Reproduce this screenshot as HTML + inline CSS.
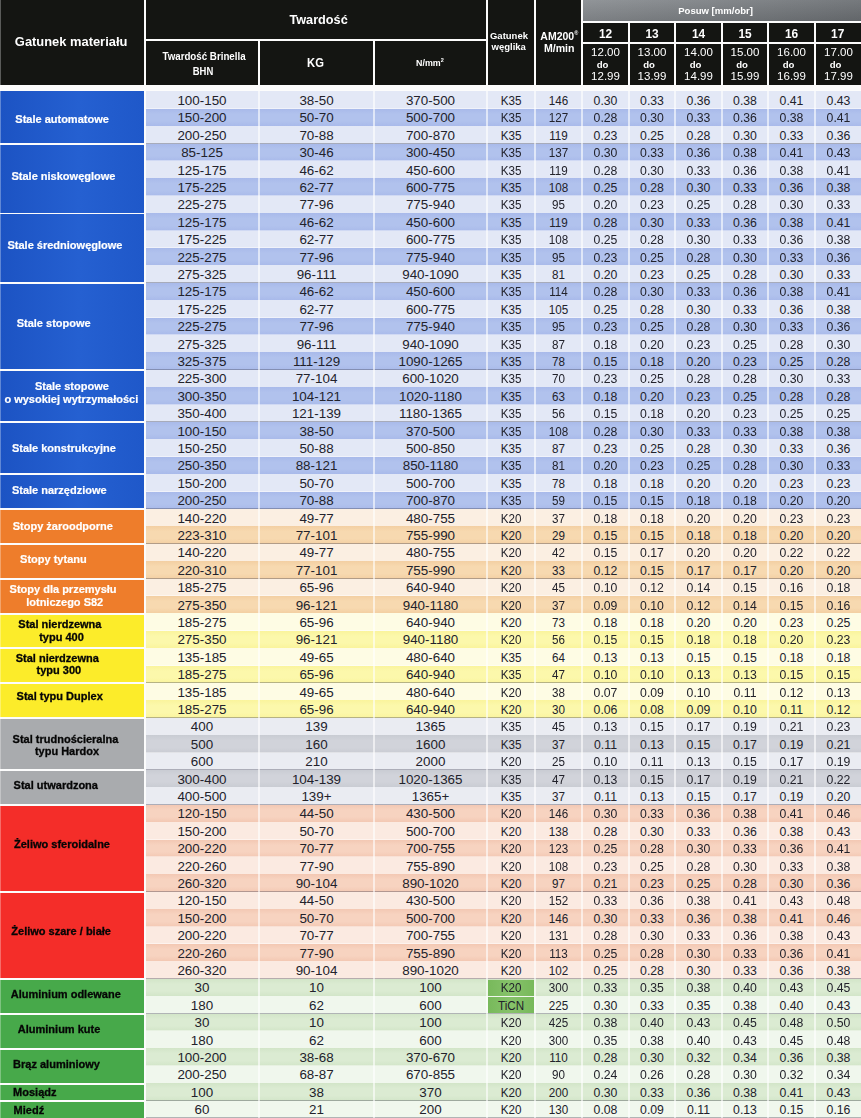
<!DOCTYPE html>
<html lang="pl">
<head>
<meta charset="utf-8">
<title>Tabela parametrów skrawania</title>
<style>
html,body{margin:0;padding:0;}
body{width:861px;height:1118px;position:relative;overflow:hidden;background:#fcfcfc;font-family:"Liberation Sans",sans-serif;}
#sheet{position:absolute;left:0;top:0;width:861px;height:1118px;overflow:hidden;filter:blur(.45px);}
.a{position:absolute;}
.hd{position:absolute;background:#141512;color:#fff;font-weight:bold;text-align:center;white-space:nowrap;}
.t{position:absolute;left:0;width:100%;text-align:center;}
.r{position:absolute;left:146px;width:715px;height:17.4px;}
.bg{position:absolute;left:0;top:0;width:715px;height:17.5px;}
.c{position:absolute;top:.65px;height:17.4px;line-height:17.4px;text-align:center;font-size:13.4px;color:#22222b;white-space:nowrap;}
.n1{transform:scaleX(.87);}
.n2{transform:scaleX(.915);}
.lb{position:absolute;left:0;width:144px;}
.lt{position:absolute;font-weight:bold;font-size:11px;line-height:11px;white-space:nowrap;color:#fff;-webkit-text-stroke:.2px #fff;}
.k .lt{color:#060606;-webkit-text-stroke:.3px #060606;}
.sep{position:absolute;left:146px;width:715px;height:1px;background:rgba(70,70,90,.38);}
.hl{position:absolute;left:146px;width:715px;height:1px;background:rgba(255,255,255,.45);}
.vl{position:absolute;top:91px;width:2px;height:1027px;background:rgba(255,255,255,.6);}

.blue .l{background:#e3e8f6;}
.blue .d{background:linear-gradient(#a9baea,#b1c2ed 30%,#b1c2ed 70%,#a9baea);}
.orange .l{background:#fbefe2;}
.orange .d{background:linear-gradient(#f3cfa2,#f7d9b0 30%,#f7d9b0 70%,#f3cfa2);}
.yellow .l{background:#fefce4;}
.yellow .d{background:linear-gradient(#faf49c,#fcf8ab 30%,#fcf8ab 70%,#faf49c);}
.gray .l{background:#eaecf2;}
.gray .d{background:linear-gradient(#c9ccd3,#d1d3da 30%,#d1d3da 70%,#c9ccd3);}
.red .l{background:#fbeae1;}
.red .d{background:linear-gradient(#f3c8b3,#f7d3c0 30%,#f7d3c0 70%,#f3c8b3);}
.green .l{background:#f0f7ed;}
.green .d{background:linear-gradient(#d2e5c8,#dbebd2 30%,#dbebd2 70%,#d2e5c8);}

.lb.blue{background:linear-gradient(90deg,#1c53c3,#2560d1 55%,#1f58c9);}
.lb.orange{background:#ee7d2b;}
.lb.yellow{background:#fcec2a;}
.lb.gray{background:#a9abae;}
.lb.red{background:#f42d29;}
.lb.green{background:#47a94a;}
</style>
</head>
<body>
<div id="sheet">
<!-- header -->
<div class="hd" style="left:0px;top:0px;width:144px;height:85px;"><div class="t" style="top:36.18px;font-size:12.9px;line-height:12.9px;left:-0.9px;">Gatunek materiału</div></div>
<div class="hd" style="left:146px;top:0px;width:340px;height:39px;"><div class="t" style="top:14.15px;font-size:12.7px;line-height:12.7px;left:2.6px;">Twardość</div></div>
<div class="hd" style="left:146px;top:41px;width:112px;height:44px;"><div class="t" style="top:10.45px;font-size:11.4px;line-height:11.4px;transform:scaleX(.855);left:1.7px;">Twardość Brinella</div><div class="t" style="top:24.69px;font-size:11px;line-height:11px;transform:scaleX(.86);left:1.2px;">BHN</div></div>
<div class="hd" style="left:260px;top:41px;width:113px;height:44px;"><div class="t" style="top:15.57px;font-size:12.2px;line-height:12.2px;transform:scaleX(.92);left:-1.4px;">KG</div></div>
<div class="hd" style="left:375px;top:41px;width:111px;height:44px;"><div class="t" style="top:18.47px;font-size:8.9px;line-height:8.9px;left:-0.6px;">N/mm<span style="font-size:5.5px;position:relative;top:-4px;">2</span></div></div>
<div class="hd" style="left:488px;top:0px;width:46px;height:85px;"><div class="t" style="top:30.86px;font-size:9.5px;line-height:9.5px;left:-2px;">Gatunek</div><div class="t" style="top:41.56px;font-size:9.5px;line-height:9.5px;left:-2.3px;">węglika</div></div>
<div class="hd" style="left:536px;top:0px;width:45px;height:85px;"><div class="t" style="top:30.71px;font-size:10.5px;line-height:10.5px;left:.8px;">AM200<span style="font-size:5.5px;position:relative;top:-5px;">®</span></div><div class="t" style="top:42.83px;font-size:10.6px;line-height:10.6px;left:.7px;">M/min</div></div>
<div class="a" style="left:583px;top:0;width:278px;height:21px;background:linear-gradient(180deg,rgba(255,255,255,.06),rgba(0,0,0,.1)),linear-gradient(90deg,#8a8e92,#7e8286 45%,#6d7175);color:#fff;font-weight:bold;text-align:center;white-space:nowrap;"><div class="t" style="top:5.72px;font-size:9.55px;line-height:9.55px;left:-6.4px;">Posuw [mm/obr]</div></div>
<div class="hd" style="left:583px;top:23px;width:45px;height:19px;"><div class="t" style="top:6.13px;font-size:11.9px;line-height:11.9px;">12</div></div>
<div class="hd" style="left:583px;top:44px;width:45px;height:41px;"><div class="t" style="top:3.47px;font-size:11.5px;line-height:11.5px;font-weight:normal;">12.00</div><div class="t" style="top:15.87px;font-size:9.6px;line-height:9.6px;left:-3px;">do</div><div class="t" style="top:26.67px;font-size:11.5px;line-height:11.5px;font-weight:normal;">12.99</div></div>
<div class="hd" style="left:630px;top:23px;width:44px;height:19px;"><div class="t" style="top:6.13px;font-size:11.9px;line-height:11.9px;">13</div></div>
<div class="hd" style="left:630px;top:44px;width:44px;height:41px;"><div class="t" style="top:3.47px;font-size:11.5px;line-height:11.5px;font-weight:normal;">13.00</div><div class="t" style="top:15.87px;font-size:9.6px;line-height:9.6px;left:-3px;">do</div><div class="t" style="top:26.67px;font-size:11.5px;line-height:11.5px;font-weight:normal;">13.99</div></div>
<div class="hd" style="left:676px;top:23px;width:45px;height:19px;"><div class="t" style="top:6.13px;font-size:11.9px;line-height:11.9px;">14</div></div>
<div class="hd" style="left:676px;top:44px;width:45px;height:41px;"><div class="t" style="top:3.47px;font-size:11.5px;line-height:11.5px;font-weight:normal;">14.00</div><div class="t" style="top:15.87px;font-size:9.6px;line-height:9.6px;left:-3px;">do</div><div class="t" style="top:26.67px;font-size:11.5px;line-height:11.5px;font-weight:normal;">14.99</div></div>
<div class="hd" style="left:723px;top:23px;width:44px;height:19px;"><div class="t" style="top:6.13px;font-size:11.9px;line-height:11.9px;">15</div></div>
<div class="hd" style="left:723px;top:44px;width:44px;height:41px;"><div class="t" style="top:3.47px;font-size:11.5px;line-height:11.5px;font-weight:normal;">15.00</div><div class="t" style="top:15.87px;font-size:9.6px;line-height:9.6px;left:-3px;">do</div><div class="t" style="top:26.67px;font-size:11.5px;line-height:11.5px;font-weight:normal;">15.99</div></div>
<div class="hd" style="left:769px;top:23px;width:45px;height:19px;"><div class="t" style="top:6.13px;font-size:11.9px;line-height:11.9px;">16</div></div>
<div class="hd" style="left:769px;top:44px;width:45px;height:41px;"><div class="t" style="top:3.47px;font-size:11.5px;line-height:11.5px;font-weight:normal;">16.00</div><div class="t" style="top:15.87px;font-size:9.6px;line-height:9.6px;left:-3px;">do</div><div class="t" style="top:26.67px;font-size:11.5px;line-height:11.5px;font-weight:normal;">16.99</div></div>
<div class="hd" style="left:816px;top:23px;width:45px;height:19px;"><div class="t" style="top:6.13px;font-size:11.9px;line-height:11.9px;left:-.8px;">17</div></div>
<div class="hd" style="left:816px;top:44px;width:45px;height:41px;"><div class="t" style="top:3.47px;font-size:11.5px;line-height:11.5px;font-weight:normal;">17.00</div><div class="t" style="top:15.87px;font-size:9.6px;line-height:9.6px;left:-3px;">do</div><div class="t" style="top:26.67px;font-size:11.5px;line-height:11.5px;font-weight:normal;">17.99</div></div>
<!-- blue -->
<div class="lb blue" style="top:91px;height:52px;"><div class="lt" style="left:15.3px;top:23px;">Stale automatowe</div></div>
<div class="r blue" style="top:91.3px;"><div class="bg l"></div><div class="c" style="left:0px;width:112px;">100-150</div><div class="c" style="left:114px;width:113px;">38-50</div><div class="c" style="left:229px;width:111px;">370-500</div><div class="c n1" style="left:342px;width:46px;">K35</div><div class="c n1" style="left:390px;width:45px;">146</div><div class="c n2" style="left:437px;width:45px;">0.30</div><div class="c n2" style="left:484px;width:44px;">0.33</div><div class="c n2" style="left:530px;width:45px;">0.36</div><div class="c n2" style="left:577px;width:44px;">0.38</div><div class="c n2" style="left:623px;width:45px;">0.41</div><div class="c n2" style="left:670px;width:45px;">0.43</div></div>
<div class="hl" style="top:108.2px;"></div>
<div class="r blue" style="top:108.7px;"><div class="bg d"></div><div class="c" style="left:0px;width:112px;">150-200</div><div class="c" style="left:114px;width:113px;">50-70</div><div class="c" style="left:229px;width:111px;">500-700</div><div class="c n1" style="left:342px;width:46px;">K35</div><div class="c n1" style="left:390px;width:45px;">127</div><div class="c n2" style="left:437px;width:45px;">0.28</div><div class="c n2" style="left:484px;width:44px;">0.30</div><div class="c n2" style="left:530px;width:45px;">0.33</div><div class="c n2" style="left:577px;width:44px;">0.36</div><div class="c n2" style="left:623px;width:45px;">0.38</div><div class="c n2" style="left:670px;width:45px;">0.41</div></div>
<div class="hl" style="top:125.6px;"></div>
<div class="r blue" style="top:126.1px;"><div class="bg l"></div><div class="c" style="left:0px;width:112px;">200-250</div><div class="c" style="left:114px;width:113px;">70-88</div><div class="c" style="left:229px;width:111px;">700-870</div><div class="c n1" style="left:342px;width:46px;">K35</div><div class="c n1" style="left:390px;width:45px;">119</div><div class="c n2" style="left:437px;width:45px;">0.23</div><div class="c n2" style="left:484px;width:44px;">0.25</div><div class="c n2" style="left:530px;width:45px;">0.28</div><div class="c n2" style="left:577px;width:44px;">0.30</div><div class="c n2" style="left:623px;width:45px;">0.33</div><div class="c n2" style="left:670px;width:45px;">0.36</div></div>
<div class="sep" style="top:143px;"></div>
<div class="lb blue" style="top:145px;height:68px;"><div class="lt" style="left:11.5px;top:26.2px;">Stale niskowęglowe</div></div>
<div class="r blue" style="top:143.5px;"><div class="bg d"></div><div class="c" style="left:0px;width:112px;">85-125</div><div class="c" style="left:114px;width:113px;">30-46</div><div class="c" style="left:229px;width:111px;">300-450</div><div class="c n1" style="left:342px;width:46px;">K35</div><div class="c n1" style="left:390px;width:45px;">137</div><div class="c n2" style="left:437px;width:45px;">0.30</div><div class="c n2" style="left:484px;width:44px;">0.33</div><div class="c n2" style="left:530px;width:45px;">0.36</div><div class="c n2" style="left:577px;width:44px;">0.38</div><div class="c n2" style="left:623px;width:45px;">0.41</div><div class="c n2" style="left:670px;width:45px;">0.43</div></div>
<div class="hl" style="top:160.4px;"></div>
<div class="r blue" style="top:160.9px;"><div class="bg l"></div><div class="c" style="left:0px;width:112px;">125-175</div><div class="c" style="left:114px;width:113px;">46-62</div><div class="c" style="left:229px;width:111px;">450-600</div><div class="c n1" style="left:342px;width:46px;">K35</div><div class="c n1" style="left:390px;width:45px;">119</div><div class="c n2" style="left:437px;width:45px;">0.28</div><div class="c n2" style="left:484px;width:44px;">0.30</div><div class="c n2" style="left:530px;width:45px;">0.33</div><div class="c n2" style="left:577px;width:44px;">0.36</div><div class="c n2" style="left:623px;width:45px;">0.38</div><div class="c n2" style="left:670px;width:45px;">0.41</div></div>
<div class="hl" style="top:177.8px;"></div>
<div class="r blue" style="top:178.3px;"><div class="bg d"></div><div class="c" style="left:0px;width:112px;">175-225</div><div class="c" style="left:114px;width:113px;">62-77</div><div class="c" style="left:229px;width:111px;">600-775</div><div class="c n1" style="left:342px;width:46px;">K35</div><div class="c n1" style="left:390px;width:45px;">108</div><div class="c n2" style="left:437px;width:45px;">0.25</div><div class="c n2" style="left:484px;width:44px;">0.28</div><div class="c n2" style="left:530px;width:45px;">0.30</div><div class="c n2" style="left:577px;width:44px;">0.33</div><div class="c n2" style="left:623px;width:45px;">0.36</div><div class="c n2" style="left:670px;width:45px;">0.38</div></div>
<div class="hl" style="top:195.2px;"></div>
<div class="r blue" style="top:195.7px;"><div class="bg l"></div><div class="c" style="left:0px;width:112px;">225-275</div><div class="c" style="left:114px;width:113px;">77-96</div><div class="c" style="left:229px;width:111px;">775-940</div><div class="c n1" style="left:342px;width:46px;">K35</div><div class="c n1" style="left:390px;width:45px;">95</div><div class="c n2" style="left:437px;width:45px;">0.20</div><div class="c n2" style="left:484px;width:44px;">0.23</div><div class="c n2" style="left:530px;width:45px;">0.25</div><div class="c n2" style="left:577px;width:44px;">0.28</div><div class="c n2" style="left:623px;width:45px;">0.30</div><div class="c n2" style="left:670px;width:45px;">0.33</div></div>
<div class="sep" style="top:212.6px;"></div>
<div class="lb blue" style="top:214px;height:68px;"><div class="lt" style="left:7.5px;top:26.1px;">Stale średniowęglowe</div></div>
<div class="r blue" style="top:213.1px;"><div class="bg d"></div><div class="c" style="left:0px;width:112px;">125-175</div><div class="c" style="left:114px;width:113px;">46-62</div><div class="c" style="left:229px;width:111px;">450-600</div><div class="c n1" style="left:342px;width:46px;">K35</div><div class="c n1" style="left:390px;width:45px;">119</div><div class="c n2" style="left:437px;width:45px;">0.28</div><div class="c n2" style="left:484px;width:44px;">0.30</div><div class="c n2" style="left:530px;width:45px;">0.33</div><div class="c n2" style="left:577px;width:44px;">0.36</div><div class="c n2" style="left:623px;width:45px;">0.38</div><div class="c n2" style="left:670px;width:45px;">0.41</div></div>
<div class="hl" style="top:230px;"></div>
<div class="r blue" style="top:230.5px;"><div class="bg l"></div><div class="c" style="left:0px;width:112px;">175-225</div><div class="c" style="left:114px;width:113px;">62-77</div><div class="c" style="left:229px;width:111px;">600-775</div><div class="c n1" style="left:342px;width:46px;">K35</div><div class="c n1" style="left:390px;width:45px;">108</div><div class="c n2" style="left:437px;width:45px;">0.25</div><div class="c n2" style="left:484px;width:44px;">0.28</div><div class="c n2" style="left:530px;width:45px;">0.30</div><div class="c n2" style="left:577px;width:44px;">0.33</div><div class="c n2" style="left:623px;width:45px;">0.36</div><div class="c n2" style="left:670px;width:45px;">0.38</div></div>
<div class="hl" style="top:247.4px;"></div>
<div class="r blue" style="top:247.9px;"><div class="bg d"></div><div class="c" style="left:0px;width:112px;">225-275</div><div class="c" style="left:114px;width:113px;">77-96</div><div class="c" style="left:229px;width:111px;">775-940</div><div class="c n1" style="left:342px;width:46px;">K35</div><div class="c n1" style="left:390px;width:45px;">95</div><div class="c n2" style="left:437px;width:45px;">0.23</div><div class="c n2" style="left:484px;width:44px;">0.25</div><div class="c n2" style="left:530px;width:45px;">0.28</div><div class="c n2" style="left:577px;width:44px;">0.30</div><div class="c n2" style="left:623px;width:45px;">0.33</div><div class="c n2" style="left:670px;width:45px;">0.36</div></div>
<div class="hl" style="top:264.8px;"></div>
<div class="r blue" style="top:265.3px;"><div class="bg l"></div><div class="c" style="left:0px;width:112px;">275-325</div><div class="c" style="left:114px;width:113px;">96-111</div><div class="c" style="left:229px;width:111px;">940-1090</div><div class="c n1" style="left:342px;width:46px;">K35</div><div class="c n1" style="left:390px;width:45px;">81</div><div class="c n2" style="left:437px;width:45px;">0.20</div><div class="c n2" style="left:484px;width:44px;">0.23</div><div class="c n2" style="left:530px;width:45px;">0.25</div><div class="c n2" style="left:577px;width:44px;">0.28</div><div class="c n2" style="left:623px;width:45px;">0.30</div><div class="c n2" style="left:670px;width:45px;">0.33</div></div>
<div class="sep" style="top:282.2px;"></div>
<div class="lb blue" style="top:284px;height:85px;"><div class="lt" style="left:16.7px;top:33.7px;">Stale stopowe</div></div>
<div class="r blue" style="top:282.7px;"><div class="bg d"></div><div class="c" style="left:0px;width:112px;">125-175</div><div class="c" style="left:114px;width:113px;">46-62</div><div class="c" style="left:229px;width:111px;">450-600</div><div class="c n1" style="left:342px;width:46px;">K35</div><div class="c n1" style="left:390px;width:45px;">114</div><div class="c n2" style="left:437px;width:45px;">0.28</div><div class="c n2" style="left:484px;width:44px;">0.30</div><div class="c n2" style="left:530px;width:45px;">0.33</div><div class="c n2" style="left:577px;width:44px;">0.36</div><div class="c n2" style="left:623px;width:45px;">0.38</div><div class="c n2" style="left:670px;width:45px;">0.41</div></div>
<div class="hl" style="top:299.6px;"></div>
<div class="r blue" style="top:300.1px;"><div class="bg l"></div><div class="c" style="left:0px;width:112px;">175-225</div><div class="c" style="left:114px;width:113px;">62-77</div><div class="c" style="left:229px;width:111px;">600-775</div><div class="c n1" style="left:342px;width:46px;">K35</div><div class="c n1" style="left:390px;width:45px;">105</div><div class="c n2" style="left:437px;width:45px;">0.25</div><div class="c n2" style="left:484px;width:44px;">0.28</div><div class="c n2" style="left:530px;width:45px;">0.30</div><div class="c n2" style="left:577px;width:44px;">0.33</div><div class="c n2" style="left:623px;width:45px;">0.36</div><div class="c n2" style="left:670px;width:45px;">0.38</div></div>
<div class="hl" style="top:317px;"></div>
<div class="r blue" style="top:317.5px;"><div class="bg d"></div><div class="c" style="left:0px;width:112px;">225-275</div><div class="c" style="left:114px;width:113px;">77-96</div><div class="c" style="left:229px;width:111px;">775-940</div><div class="c n1" style="left:342px;width:46px;">K35</div><div class="c n1" style="left:390px;width:45px;">95</div><div class="c n2" style="left:437px;width:45px;">0.23</div><div class="c n2" style="left:484px;width:44px;">0.25</div><div class="c n2" style="left:530px;width:45px;">0.28</div><div class="c n2" style="left:577px;width:44px;">0.30</div><div class="c n2" style="left:623px;width:45px;">0.33</div><div class="c n2" style="left:670px;width:45px;">0.36</div></div>
<div class="hl" style="top:334.4px;"></div>
<div class="r blue" style="top:334.9px;"><div class="bg l"></div><div class="c" style="left:0px;width:112px;">275-325</div><div class="c" style="left:114px;width:113px;">96-111</div><div class="c" style="left:229px;width:111px;">940-1090</div><div class="c n1" style="left:342px;width:46px;">K35</div><div class="c n1" style="left:390px;width:45px;">87</div><div class="c n2" style="left:437px;width:45px;">0.18</div><div class="c n2" style="left:484px;width:44px;">0.20</div><div class="c n2" style="left:530px;width:45px;">0.23</div><div class="c n2" style="left:577px;width:44px;">0.25</div><div class="c n2" style="left:623px;width:45px;">0.28</div><div class="c n2" style="left:670px;width:45px;">0.30</div></div>
<div class="hl" style="top:351.8px;"></div>
<div class="r blue" style="top:352.3px;"><div class="bg d"></div><div class="c" style="left:0px;width:112px;">325-375</div><div class="c" style="left:114px;width:113px;">111-129</div><div class="c" style="left:229px;width:111px;">1090-1265</div><div class="c n1" style="left:342px;width:46px;">K35</div><div class="c n1" style="left:390px;width:45px;">78</div><div class="c n2" style="left:437px;width:45px;">0.15</div><div class="c n2" style="left:484px;width:44px;">0.18</div><div class="c n2" style="left:530px;width:45px;">0.20</div><div class="c n2" style="left:577px;width:44px;">0.23</div><div class="c n2" style="left:623px;width:45px;">0.25</div><div class="c n2" style="left:670px;width:45px;">0.28</div></div>
<div class="sep" style="top:369.2px;"></div>
<div class="lb blue" style="top:371px;height:50px;"><div class="lt" style="left:34.9px;top:10.4px;">Stale stopowe</div><div class="lt" style="left:4.4px;top:23.1px;">o wysokiej wytrzymałości</div></div>
<div class="r blue" style="top:369.7px;"><div class="bg l"></div><div class="c" style="left:0px;width:112px;">225-300</div><div class="c" style="left:114px;width:113px;">77-104</div><div class="c" style="left:229px;width:111px;">600-1020</div><div class="c n1" style="left:342px;width:46px;">K35</div><div class="c n1" style="left:390px;width:45px;">70</div><div class="c n2" style="left:437px;width:45px;">0.23</div><div class="c n2" style="left:484px;width:44px;">0.25</div><div class="c n2" style="left:530px;width:45px;">0.28</div><div class="c n2" style="left:577px;width:44px;">0.28</div><div class="c n2" style="left:623px;width:45px;">0.30</div><div class="c n2" style="left:670px;width:45px;">0.33</div></div>
<div class="hl" style="top:386.6px;"></div>
<div class="r blue" style="top:387.1px;"><div class="bg d"></div><div class="c" style="left:0px;width:112px;">300-350</div><div class="c" style="left:114px;width:113px;">104-121</div><div class="c" style="left:229px;width:111px;">1020-1180</div><div class="c n1" style="left:342px;width:46px;">K35</div><div class="c n1" style="left:390px;width:45px;">63</div><div class="c n2" style="left:437px;width:45px;">0.18</div><div class="c n2" style="left:484px;width:44px;">0.20</div><div class="c n2" style="left:530px;width:45px;">0.23</div><div class="c n2" style="left:577px;width:44px;">0.25</div><div class="c n2" style="left:623px;width:45px;">0.28</div><div class="c n2" style="left:670px;width:45px;">0.28</div></div>
<div class="hl" style="top:404px;"></div>
<div class="r blue" style="top:404.5px;"><div class="bg l"></div><div class="c" style="left:0px;width:112px;">350-400</div><div class="c" style="left:114px;width:113px;">121-139</div><div class="c" style="left:229px;width:111px;">1180-1365</div><div class="c n1" style="left:342px;width:46px;">K35</div><div class="c n1" style="left:390px;width:45px;">56</div><div class="c n2" style="left:437px;width:45px;">0.15</div><div class="c n2" style="left:484px;width:44px;">0.18</div><div class="c n2" style="left:530px;width:45px;">0.20</div><div class="c n2" style="left:577px;width:44px;">0.23</div><div class="c n2" style="left:623px;width:45px;">0.25</div><div class="c n2" style="left:670px;width:45px;">0.25</div></div>
<div class="sep" style="top:421.4px;"></div>
<div class="lb blue" style="top:423px;height:50px;"><div class="lt" style="left:11.9px;top:19.6px;">Stale konstrukcyjne</div></div>
<div class="r blue" style="top:421.9px;"><div class="bg d"></div><div class="c" style="left:0px;width:112px;">100-150</div><div class="c" style="left:114px;width:113px;">38-50</div><div class="c" style="left:229px;width:111px;">370-500</div><div class="c n1" style="left:342px;width:46px;">K35</div><div class="c n1" style="left:390px;width:45px;">108</div><div class="c n2" style="left:437px;width:45px;">0.28</div><div class="c n2" style="left:484px;width:44px;">0.30</div><div class="c n2" style="left:530px;width:45px;">0.33</div><div class="c n2" style="left:577px;width:44px;">0.33</div><div class="c n2" style="left:623px;width:45px;">0.38</div><div class="c n2" style="left:670px;width:45px;">0.38</div></div>
<div class="hl" style="top:438.8px;"></div>
<div class="r blue" style="top:439.3px;"><div class="bg l"></div><div class="c" style="left:0px;width:112px;">150-250</div><div class="c" style="left:114px;width:113px;">50-88</div><div class="c" style="left:229px;width:111px;">500-850</div><div class="c n1" style="left:342px;width:46px;">K35</div><div class="c n1" style="left:390px;width:45px;">87</div><div class="c n2" style="left:437px;width:45px;">0.23</div><div class="c n2" style="left:484px;width:44px;">0.25</div><div class="c n2" style="left:530px;width:45px;">0.28</div><div class="c n2" style="left:577px;width:44px;">0.30</div><div class="c n2" style="left:623px;width:45px;">0.33</div><div class="c n2" style="left:670px;width:45px;">0.36</div></div>
<div class="hl" style="top:456.2px;"></div>
<div class="r blue" style="top:456.7px;"><div class="bg d"></div><div class="c" style="left:0px;width:112px;">250-350</div><div class="c" style="left:114px;width:113px;">88-121</div><div class="c" style="left:229px;width:111px;">850-1180</div><div class="c n1" style="left:342px;width:46px;">K35</div><div class="c n1" style="left:390px;width:45px;">81</div><div class="c n2" style="left:437px;width:45px;">0.20</div><div class="c n2" style="left:484px;width:44px;">0.23</div><div class="c n2" style="left:530px;width:45px;">0.25</div><div class="c n2" style="left:577px;width:44px;">0.28</div><div class="c n2" style="left:623px;width:45px;">0.30</div><div class="c n2" style="left:670px;width:45px;">0.33</div></div>
<div class="sep" style="top:473.6px;"></div>
<div class="lb blue" style="top:475px;height:33px;"><div class="lt" style="left:11.9px;top:9.9px;">Stale narzędziowe</div></div>
<div class="r blue" style="top:474.1px;"><div class="bg l"></div><div class="c" style="left:0px;width:112px;">150-200</div><div class="c" style="left:114px;width:113px;">50-70</div><div class="c" style="left:229px;width:111px;">500-700</div><div class="c n1" style="left:342px;width:46px;">K35</div><div class="c n1" style="left:390px;width:45px;">78</div><div class="c n2" style="left:437px;width:45px;">0.18</div><div class="c n2" style="left:484px;width:44px;">0.18</div><div class="c n2" style="left:530px;width:45px;">0.20</div><div class="c n2" style="left:577px;width:44px;">0.20</div><div class="c n2" style="left:623px;width:45px;">0.23</div><div class="c n2" style="left:670px;width:45px;">0.23</div></div>
<div class="hl" style="top:491px;"></div>
<div class="r blue" style="top:491.5px;"><div class="bg d"></div><div class="c" style="left:0px;width:112px;">200-250</div><div class="c" style="left:114px;width:113px;">70-88</div><div class="c" style="left:229px;width:111px;">700-870</div><div class="c n1" style="left:342px;width:46px;">K35</div><div class="c n1" style="left:390px;width:45px;">59</div><div class="c n2" style="left:437px;width:45px;">0.15</div><div class="c n2" style="left:484px;width:44px;">0.15</div><div class="c n2" style="left:530px;width:45px;">0.18</div><div class="c n2" style="left:577px;width:44px;">0.18</div><div class="c n2" style="left:623px;width:45px;">0.20</div><div class="c n2" style="left:670px;width:45px;">0.20</div></div>
<div class="sep" style="top:508.4px;"></div>
<!-- orange -->
<div class="lb orange" style="top:510px;height:33px;"><div class="lt" style="left:12.7px;top:10.8px;">Stopy żaroodporne</div></div>
<div class="r orange" style="top:508.9px;"><div class="bg l"></div><div class="c" style="left:0px;width:112px;">140-220</div><div class="c" style="left:114px;width:113px;">49-77</div><div class="c" style="left:229px;width:111px;">480-755</div><div class="c n1" style="left:342px;width:46px;">K20</div><div class="c n1" style="left:390px;width:45px;">37</div><div class="c n2" style="left:437px;width:45px;">0.18</div><div class="c n2" style="left:484px;width:44px;">0.18</div><div class="c n2" style="left:530px;width:45px;">0.20</div><div class="c n2" style="left:577px;width:44px;">0.20</div><div class="c n2" style="left:623px;width:45px;">0.23</div><div class="c n2" style="left:670px;width:45px;">0.23</div></div>
<div class="hl" style="top:525.8px;"></div>
<div class="r orange" style="top:526.3px;"><div class="bg d"></div><div class="c" style="left:0px;width:112px;">223-310</div><div class="c" style="left:114px;width:113px;">77-101</div><div class="c" style="left:229px;width:111px;">755-990</div><div class="c n1" style="left:342px;width:46px;">K20</div><div class="c n1" style="left:390px;width:45px;">29</div><div class="c n2" style="left:437px;width:45px;">0.15</div><div class="c n2" style="left:484px;width:44px;">0.15</div><div class="c n2" style="left:530px;width:45px;">0.18</div><div class="c n2" style="left:577px;width:44px;">0.18</div><div class="c n2" style="left:623px;width:45px;">0.20</div><div class="c n2" style="left:670px;width:45px;">0.20</div></div>
<div class="sep" style="top:543.2px;"></div>
<div class="lb orange" style="top:545px;height:33px;"><div class="lt" style="left:20.1px;top:9.3px;">Stopy tytanu</div></div>
<div class="r orange" style="top:543.7px;"><div class="bg l"></div><div class="c" style="left:0px;width:112px;">140-220</div><div class="c" style="left:114px;width:113px;">49-77</div><div class="c" style="left:229px;width:111px;">480-755</div><div class="c n1" style="left:342px;width:46px;">K20</div><div class="c n1" style="left:390px;width:45px;">42</div><div class="c n2" style="left:437px;width:45px;">0.15</div><div class="c n2" style="left:484px;width:44px;">0.17</div><div class="c n2" style="left:530px;width:45px;">0.20</div><div class="c n2" style="left:577px;width:44px;">0.20</div><div class="c n2" style="left:623px;width:45px;">0.22</div><div class="c n2" style="left:670px;width:45px;">0.22</div></div>
<div class="hl" style="top:560.6px;"></div>
<div class="r orange" style="top:561.1px;"><div class="bg d"></div><div class="c" style="left:0px;width:112px;">220-310</div><div class="c" style="left:114px;width:113px;">77-101</div><div class="c" style="left:229px;width:111px;">755-990</div><div class="c n1" style="left:342px;width:46px;">K20</div><div class="c n1" style="left:390px;width:45px;">33</div><div class="c n2" style="left:437px;width:45px;">0.12</div><div class="c n2" style="left:484px;width:44px;">0.15</div><div class="c n2" style="left:530px;width:45px;">0.17</div><div class="c n2" style="left:577px;width:44px;">0.17</div><div class="c n2" style="left:623px;width:45px;">0.20</div><div class="c n2" style="left:670px;width:45px;">0.20</div></div>
<div class="sep" style="top:578px;"></div>
<div class="lb orange" style="top:580px;height:33px;"><div class="lt" style="left:9.6px;top:4px;">Stopy dla przemysłu</div><div class="lt" style="left:26.2px;top:16.7px;">lotniczego S82</div></div>
<div class="r orange" style="top:578.5px;"><div class="bg l"></div><div class="c" style="left:0px;width:112px;">185-275</div><div class="c" style="left:114px;width:113px;">65-96</div><div class="c" style="left:229px;width:111px;">640-940</div><div class="c n1" style="left:342px;width:46px;">K20</div><div class="c n1" style="left:390px;width:45px;">45</div><div class="c n2" style="left:437px;width:45px;">0.10</div><div class="c n2" style="left:484px;width:44px;">0.12</div><div class="c n2" style="left:530px;width:45px;">0.14</div><div class="c n2" style="left:577px;width:44px;">0.15</div><div class="c n2" style="left:623px;width:45px;">0.16</div><div class="c n2" style="left:670px;width:45px;">0.18</div></div>
<div class="hl" style="top:595.4px;"></div>
<div class="r orange" style="top:595.9px;"><div class="bg d"></div><div class="c" style="left:0px;width:112px;">275-350</div><div class="c" style="left:114px;width:113px;">96-121</div><div class="c" style="left:229px;width:111px;">940-1180</div><div class="c n1" style="left:342px;width:46px;">K20</div><div class="c n1" style="left:390px;width:45px;">37</div><div class="c n2" style="left:437px;width:45px;">0.09</div><div class="c n2" style="left:484px;width:44px;">0.10</div><div class="c n2" style="left:530px;width:45px;">0.12</div><div class="c n2" style="left:577px;width:44px;">0.14</div><div class="c n2" style="left:623px;width:45px;">0.15</div><div class="c n2" style="left:670px;width:45px;">0.16</div></div>
<div class="sep" style="top:612.8px;"></div>
<!-- yellow -->
<div class="lb yellow k" style="top:615px;height:32px;"><div class="lt" style="left:18.3px;top:3.9px;">Stal nierdzewna</div><div class="lt" style="left:39.2px;top:16.6px;">typu 400</div></div>
<div class="r yellow" style="top:613.3px;"><div class="bg l"></div><div class="c" style="left:0px;width:112px;">185-275</div><div class="c" style="left:114px;width:113px;">65-96</div><div class="c" style="left:229px;width:111px;">640-940</div><div class="c n1" style="left:342px;width:46px;">K20</div><div class="c n1" style="left:390px;width:45px;">73</div><div class="c n2" style="left:437px;width:45px;">0.18</div><div class="c n2" style="left:484px;width:44px;">0.18</div><div class="c n2" style="left:530px;width:45px;">0.20</div><div class="c n2" style="left:577px;width:44px;">0.20</div><div class="c n2" style="left:623px;width:45px;">0.23</div><div class="c n2" style="left:670px;width:45px;">0.25</div></div>
<div class="hl" style="top:630.2px;"></div>
<div class="r yellow" style="top:630.7px;"><div class="bg d"></div><div class="c" style="left:0px;width:112px;">275-350</div><div class="c" style="left:114px;width:113px;">96-121</div><div class="c" style="left:229px;width:111px;">940-1180</div><div class="c n1" style="left:342px;width:46px;">K20</div><div class="c n1" style="left:390px;width:45px;">56</div><div class="c n2" style="left:437px;width:45px;">0.15</div><div class="c n2" style="left:484px;width:44px;">0.15</div><div class="c n2" style="left:530px;width:45px;">0.18</div><div class="c n2" style="left:577px;width:44px;">0.18</div><div class="c n2" style="left:623px;width:45px;">0.20</div><div class="c n2" style="left:670px;width:45px;">0.23</div></div>
<div class="sep" style="top:647.6px;"></div>
<div class="lb yellow k" style="top:649px;height:33px;"><div class="lt" style="left:15.7px;top:3.5px;">Stal nierdzewna</div><div class="lt" style="left:36.6px;top:16.2px;">typu 300</div></div>
<div class="r yellow" style="top:648.1px;"><div class="bg l"></div><div class="c" style="left:0px;width:112px;">135-185</div><div class="c" style="left:114px;width:113px;">49-65</div><div class="c" style="left:229px;width:111px;">480-640</div><div class="c n1" style="left:342px;width:46px;">K35</div><div class="c n1" style="left:390px;width:45px;">64</div><div class="c n2" style="left:437px;width:45px;">0.13</div><div class="c n2" style="left:484px;width:44px;">0.13</div><div class="c n2" style="left:530px;width:45px;">0.15</div><div class="c n2" style="left:577px;width:44px;">0.15</div><div class="c n2" style="left:623px;width:45px;">0.18</div><div class="c n2" style="left:670px;width:45px;">0.18</div></div>
<div class="hl" style="top:665px;"></div>
<div class="r yellow" style="top:665.5px;"><div class="bg d"></div><div class="c" style="left:0px;width:112px;">185-275</div><div class="c" style="left:114px;width:113px;">65-96</div><div class="c" style="left:229px;width:111px;">640-940</div><div class="c n1" style="left:342px;width:46px;">K35</div><div class="c n1" style="left:390px;width:45px;">47</div><div class="c n2" style="left:437px;width:45px;">0.10</div><div class="c n2" style="left:484px;width:44px;">0.10</div><div class="c n2" style="left:530px;width:45px;">0.13</div><div class="c n2" style="left:577px;width:44px;">0.13</div><div class="c n2" style="left:623px;width:45px;">0.15</div><div class="c n2" style="left:670px;width:45px;">0.15</div></div>
<div class="sep" style="top:682.4px;"></div>
<div class="lb yellow k" style="top:684px;height:33px;"><div class="lt" style="left:16.6px;top:7px;">Stal typu Duplex</div></div>
<div class="r yellow" style="top:682.9px;"><div class="bg l"></div><div class="c" style="left:0px;width:112px;">135-185</div><div class="c" style="left:114px;width:113px;">49-65</div><div class="c" style="left:229px;width:111px;">480-640</div><div class="c n1" style="left:342px;width:46px;">K20</div><div class="c n1" style="left:390px;width:45px;">38</div><div class="c n2" style="left:437px;width:45px;">0.07</div><div class="c n2" style="left:484px;width:44px;">0.09</div><div class="c n2" style="left:530px;width:45px;">0.10</div><div class="c n2" style="left:577px;width:44px;">0.11</div><div class="c n2" style="left:623px;width:45px;">0.12</div><div class="c n2" style="left:670px;width:45px;">0.13</div></div>
<div class="hl" style="top:699.8px;"></div>
<div class="r yellow" style="top:700.3px;"><div class="bg d"></div><div class="c" style="left:0px;width:112px;">185-275</div><div class="c" style="left:114px;width:113px;">65-96</div><div class="c" style="left:229px;width:111px;">640-940</div><div class="c n1" style="left:342px;width:46px;">K20</div><div class="c n1" style="left:390px;width:45px;">30</div><div class="c n2" style="left:437px;width:45px;">0.06</div><div class="c n2" style="left:484px;width:44px;">0.08</div><div class="c n2" style="left:530px;width:45px;">0.09</div><div class="c n2" style="left:577px;width:44px;">0.10</div><div class="c n2" style="left:623px;width:45px;">0.11</div><div class="c n2" style="left:670px;width:45px;">0.12</div></div>
<div class="sep" style="top:717.2px;"></div>
<!-- gray -->
<div class="lb gray k" style="top:719px;height:50px;"><div class="lt" style="left:12.6px;top:14.6px;">Stal trudnościeralna</div><div class="lt" style="left:34.9px;top:27.3px;">typu Hardox</div></div>
<div class="r gray" style="top:717.7px;"><div class="bg l"></div><div class="c" style="left:0px;width:112px;">400</div><div class="c" style="left:114px;width:113px;">139</div><div class="c" style="left:229px;width:111px;">1365</div><div class="c n1" style="left:342px;width:46px;">K35</div><div class="c n1" style="left:390px;width:45px;">45</div><div class="c n2" style="left:437px;width:45px;">0.13</div><div class="c n2" style="left:484px;width:44px;">0.15</div><div class="c n2" style="left:530px;width:45px;">0.17</div><div class="c n2" style="left:577px;width:44px;">0.19</div><div class="c n2" style="left:623px;width:45px;">0.21</div><div class="c n2" style="left:670px;width:45px;">0.23</div></div>
<div class="hl" style="top:734.6px;"></div>
<div class="r gray" style="top:735.1px;"><div class="bg d"></div><div class="c" style="left:0px;width:112px;">500</div><div class="c" style="left:114px;width:113px;">160</div><div class="c" style="left:229px;width:111px;">1600</div><div class="c n1" style="left:342px;width:46px;">K35</div><div class="c n1" style="left:390px;width:45px;">37</div><div class="c n2" style="left:437px;width:45px;">0.11</div><div class="c n2" style="left:484px;width:44px;">0.13</div><div class="c n2" style="left:530px;width:45px;">0.15</div><div class="c n2" style="left:577px;width:44px;">0.17</div><div class="c n2" style="left:623px;width:45px;">0.19</div><div class="c n2" style="left:670px;width:45px;">0.21</div></div>
<div class="hl" style="top:752px;"></div>
<div class="r gray" style="top:752.5px;"><div class="bg l"></div><div class="c" style="left:0px;width:112px;">600</div><div class="c" style="left:114px;width:113px;">210</div><div class="c" style="left:229px;width:111px;">2000</div><div class="c n1" style="left:342px;width:46px;">K20</div><div class="c n1" style="left:390px;width:45px;">25</div><div class="c n2" style="left:437px;width:45px;">0.10</div><div class="c n2" style="left:484px;width:44px;">0.11</div><div class="c n2" style="left:530px;width:45px;">0.13</div><div class="c n2" style="left:577px;width:44px;">0.15</div><div class="c n2" style="left:623px;width:45px;">0.17</div><div class="c n2" style="left:670px;width:45px;">0.19</div></div>
<div class="sep" style="top:769.4px;"></div>
<div class="lb gray k" style="top:771px;height:33px;"><div class="lt" style="left:13.6px;top:9px;">Stal utwardzona</div></div>
<div class="r gray" style="top:769.9px;"><div class="bg d"></div><div class="c" style="left:0px;width:112px;">300-400</div><div class="c" style="left:114px;width:113px;">104-139</div><div class="c" style="left:229px;width:111px;">1020-1365</div><div class="c n1" style="left:342px;width:46px;">K35</div><div class="c n1" style="left:390px;width:45px;">47</div><div class="c n2" style="left:437px;width:45px;">0.13</div><div class="c n2" style="left:484px;width:44px;">0.15</div><div class="c n2" style="left:530px;width:45px;">0.17</div><div class="c n2" style="left:577px;width:44px;">0.19</div><div class="c n2" style="left:623px;width:45px;">0.21</div><div class="c n2" style="left:670px;width:45px;">0.22</div></div>
<div class="hl" style="top:786.8px;"></div>
<div class="r gray" style="top:787.3px;"><div class="bg l"></div><div class="c" style="left:0px;width:112px;">400-500</div><div class="c" style="left:114px;width:113px;">139+</div><div class="c" style="left:229px;width:111px;">1365+</div><div class="c n1" style="left:342px;width:46px;">K35</div><div class="c n1" style="left:390px;width:45px;">37</div><div class="c n2" style="left:437px;width:45px;">0.11</div><div class="c n2" style="left:484px;width:44px;">0.13</div><div class="c n2" style="left:530px;width:45px;">0.15</div><div class="c n2" style="left:577px;width:44px;">0.17</div><div class="c n2" style="left:623px;width:45px;">0.19</div><div class="c n2" style="left:670px;width:45px;">0.20</div></div>
<div class="sep" style="top:804.2px;"></div>
<!-- red -->
<div class="lb red k" style="top:806px;height:85px;"><div class="lt" style="left:14px;top:33.4px;">Żeliwo sferoidalne</div></div>
<div class="r red" style="top:804.7px;"><div class="bg d"></div><div class="c" style="left:0px;width:112px;">120-150</div><div class="c" style="left:114px;width:113px;">44-50</div><div class="c" style="left:229px;width:111px;">430-500</div><div class="c n1" style="left:342px;width:46px;">K20</div><div class="c n1" style="left:390px;width:45px;">146</div><div class="c n2" style="left:437px;width:45px;">0.30</div><div class="c n2" style="left:484px;width:44px;">0.33</div><div class="c n2" style="left:530px;width:45px;">0.36</div><div class="c n2" style="left:577px;width:44px;">0.38</div><div class="c n2" style="left:623px;width:45px;">0.41</div><div class="c n2" style="left:670px;width:45px;">0.46</div></div>
<div class="hl" style="top:821.6px;"></div>
<div class="r red" style="top:822.1px;"><div class="bg l"></div><div class="c" style="left:0px;width:112px;">150-200</div><div class="c" style="left:114px;width:113px;">50-70</div><div class="c" style="left:229px;width:111px;">500-700</div><div class="c n1" style="left:342px;width:46px;">K20</div><div class="c n1" style="left:390px;width:45px;">138</div><div class="c n2" style="left:437px;width:45px;">0.28</div><div class="c n2" style="left:484px;width:44px;">0.30</div><div class="c n2" style="left:530px;width:45px;">0.33</div><div class="c n2" style="left:577px;width:44px;">0.36</div><div class="c n2" style="left:623px;width:45px;">0.38</div><div class="c n2" style="left:670px;width:45px;">0.43</div></div>
<div class="hl" style="top:839px;"></div>
<div class="r red" style="top:839.5px;"><div class="bg d"></div><div class="c" style="left:0px;width:112px;">200-220</div><div class="c" style="left:114px;width:113px;">70-77</div><div class="c" style="left:229px;width:111px;">700-755</div><div class="c n1" style="left:342px;width:46px;">K20</div><div class="c n1" style="left:390px;width:45px;">123</div><div class="c n2" style="left:437px;width:45px;">0.25</div><div class="c n2" style="left:484px;width:44px;">0.28</div><div class="c n2" style="left:530px;width:45px;">0.30</div><div class="c n2" style="left:577px;width:44px;">0.33</div><div class="c n2" style="left:623px;width:45px;">0.36</div><div class="c n2" style="left:670px;width:45px;">0.41</div></div>
<div class="hl" style="top:856.4px;"></div>
<div class="r red" style="top:856.9px;"><div class="bg l"></div><div class="c" style="left:0px;width:112px;">220-260</div><div class="c" style="left:114px;width:113px;">77-90</div><div class="c" style="left:229px;width:111px;">755-890</div><div class="c n1" style="left:342px;width:46px;">K20</div><div class="c n1" style="left:390px;width:45px;">108</div><div class="c n2" style="left:437px;width:45px;">0.23</div><div class="c n2" style="left:484px;width:44px;">0.25</div><div class="c n2" style="left:530px;width:45px;">0.28</div><div class="c n2" style="left:577px;width:44px;">0.30</div><div class="c n2" style="left:623px;width:45px;">0.33</div><div class="c n2" style="left:670px;width:45px;">0.38</div></div>
<div class="hl" style="top:873.8px;"></div>
<div class="r red" style="top:874.3px;"><div class="bg d"></div><div class="c" style="left:0px;width:112px;">260-320</div><div class="c" style="left:114px;width:113px;">90-104</div><div class="c" style="left:229px;width:111px;">890-1020</div><div class="c n1" style="left:342px;width:46px;">K20</div><div class="c n1" style="left:390px;width:45px;">97</div><div class="c n2" style="left:437px;width:45px;">0.21</div><div class="c n2" style="left:484px;width:44px;">0.23</div><div class="c n2" style="left:530px;width:45px;">0.25</div><div class="c n2" style="left:577px;width:44px;">0.28</div><div class="c n2" style="left:623px;width:45px;">0.30</div><div class="c n2" style="left:670px;width:45px;">0.36</div></div>
<div class="sep" style="top:891.2px;"></div>
<div class="lb red k" style="top:893px;height:85px;"><div class="lt" style="left:11.3px;top:32.8px;">Żeliwo szare / białe</div></div>
<div class="r red" style="top:891.7px;"><div class="bg l"></div><div class="c" style="left:0px;width:112px;">120-150</div><div class="c" style="left:114px;width:113px;">44-50</div><div class="c" style="left:229px;width:111px;">430-500</div><div class="c n1" style="left:342px;width:46px;">K20</div><div class="c n1" style="left:390px;width:45px;">152</div><div class="c n2" style="left:437px;width:45px;">0.33</div><div class="c n2" style="left:484px;width:44px;">0.36</div><div class="c n2" style="left:530px;width:45px;">0.38</div><div class="c n2" style="left:577px;width:44px;">0.41</div><div class="c n2" style="left:623px;width:45px;">0.43</div><div class="c n2" style="left:670px;width:45px;">0.48</div></div>
<div class="hl" style="top:908.6px;"></div>
<div class="r red" style="top:909.1px;"><div class="bg d"></div><div class="c" style="left:0px;width:112px;">150-200</div><div class="c" style="left:114px;width:113px;">50-70</div><div class="c" style="left:229px;width:111px;">500-700</div><div class="c n1" style="left:342px;width:46px;">K20</div><div class="c n1" style="left:390px;width:45px;">146</div><div class="c n2" style="left:437px;width:45px;">0.30</div><div class="c n2" style="left:484px;width:44px;">0.33</div><div class="c n2" style="left:530px;width:45px;">0.36</div><div class="c n2" style="left:577px;width:44px;">0.38</div><div class="c n2" style="left:623px;width:45px;">0.41</div><div class="c n2" style="left:670px;width:45px;">0.46</div></div>
<div class="hl" style="top:926px;"></div>
<div class="r red" style="top:926.5px;"><div class="bg l"></div><div class="c" style="left:0px;width:112px;">200-220</div><div class="c" style="left:114px;width:113px;">70-77</div><div class="c" style="left:229px;width:111px;">700-755</div><div class="c n1" style="left:342px;width:46px;">K20</div><div class="c n1" style="left:390px;width:45px;">131</div><div class="c n2" style="left:437px;width:45px;">0.28</div><div class="c n2" style="left:484px;width:44px;">0.30</div><div class="c n2" style="left:530px;width:45px;">0.33</div><div class="c n2" style="left:577px;width:44px;">0.36</div><div class="c n2" style="left:623px;width:45px;">0.38</div><div class="c n2" style="left:670px;width:45px;">0.43</div></div>
<div class="hl" style="top:943.4px;"></div>
<div class="r red" style="top:943.9px;"><div class="bg d"></div><div class="c" style="left:0px;width:112px;">220-260</div><div class="c" style="left:114px;width:113px;">77-90</div><div class="c" style="left:229px;width:111px;">755-890</div><div class="c n1" style="left:342px;width:46px;">K20</div><div class="c n1" style="left:390px;width:45px;">113</div><div class="c n2" style="left:437px;width:45px;">0.25</div><div class="c n2" style="left:484px;width:44px;">0.28</div><div class="c n2" style="left:530px;width:45px;">0.30</div><div class="c n2" style="left:577px;width:44px;">0.33</div><div class="c n2" style="left:623px;width:45px;">0.36</div><div class="c n2" style="left:670px;width:45px;">0.41</div></div>
<div class="hl" style="top:960.8px;"></div>
<div class="r red" style="top:961.3px;"><div class="bg l"></div><div class="c" style="left:0px;width:112px;">260-320</div><div class="c" style="left:114px;width:113px;">90-104</div><div class="c" style="left:229px;width:111px;">890-1020</div><div class="c n1" style="left:342px;width:46px;">K20</div><div class="c n1" style="left:390px;width:45px;">102</div><div class="c n2" style="left:437px;width:45px;">0.25</div><div class="c n2" style="left:484px;width:44px;">0.28</div><div class="c n2" style="left:530px;width:45px;">0.30</div><div class="c n2" style="left:577px;width:44px;">0.33</div><div class="c n2" style="left:623px;width:45px;">0.36</div><div class="c n2" style="left:670px;width:45px;">0.38</div></div>
<div class="sep" style="top:978.2px;"></div>
<!-- green -->
<div class="lb green k" style="top:980px;height:33px;"><div class="lt" style="left:10.8px;top:9.4px;">Aluminium odlewane</div></div>
<div class="r green" style="top:978.7px;"><div class="bg d"></div><div class="c" style="left:0px;width:112px;">30</div><div class="c" style="left:114px;width:113px;">10</div><div class="c" style="left:229px;width:111px;">100</div><div class="a" style="left:342px;top:1px;width:46px;height:16px;background:linear-gradient(90deg,#78b95b,#86c26a 50%,#78b95b);"></div><div class="c n1" style="left:342px;width:46px;">K20</div><div class="c n1" style="left:390px;width:45px;">300</div><div class="c n2" style="left:437px;width:45px;">0.33</div><div class="c n2" style="left:484px;width:44px;">0.35</div><div class="c n2" style="left:530px;width:45px;">0.38</div><div class="c n2" style="left:577px;width:44px;">0.40</div><div class="c n2" style="left:623px;width:45px;">0.43</div><div class="c n2" style="left:670px;width:45px;">0.45</div></div>
<div class="hl" style="top:995.6px;"></div>
<div class="r green" style="top:996.1px;"><div class="bg l"></div><div class="c" style="left:0px;width:112px;">180</div><div class="c" style="left:114px;width:113px;">62</div><div class="c" style="left:229px;width:111px;">600</div><div class="a" style="left:342px;top:1.4px;width:46px;height:16px;background:linear-gradient(90deg,#78b95b,#86c26a 50%,#78b95b);"></div><div class="c n1" style="left:342px;width:46px;">TiCN</div><div class="c n1" style="left:390px;width:45px;">225</div><div class="c n2" style="left:437px;width:45px;">0.30</div><div class="c n2" style="left:484px;width:44px;">0.33</div><div class="c n2" style="left:530px;width:45px;">0.35</div><div class="c n2" style="left:577px;width:44px;">0.38</div><div class="c n2" style="left:623px;width:45px;">0.40</div><div class="c n2" style="left:670px;width:45px;">0.43</div></div>
<div class="sep" style="top:1013px;"></div>
<div class="lb green k" style="top:1015px;height:33px;"><div class="lt" style="left:17.8px;top:9.3px;">Aluminium kute</div></div>
<div class="r green" style="top:1013.5px;"><div class="bg d"></div><div class="c" style="left:0px;width:112px;">30</div><div class="c" style="left:114px;width:113px;">10</div><div class="c" style="left:229px;width:111px;">100</div><div class="c n1" style="left:342px;width:46px;">K20</div><div class="c n1" style="left:390px;width:45px;">425</div><div class="c n2" style="left:437px;width:45px;">0.38</div><div class="c n2" style="left:484px;width:44px;">0.40</div><div class="c n2" style="left:530px;width:45px;">0.43</div><div class="c n2" style="left:577px;width:44px;">0.45</div><div class="c n2" style="left:623px;width:45px;">0.48</div><div class="c n2" style="left:670px;width:45px;">0.50</div></div>
<div class="hl" style="top:1030.4px;"></div>
<div class="r green" style="top:1030.9px;"><div class="bg l"></div><div class="c" style="left:0px;width:112px;">180</div><div class="c" style="left:114px;width:113px;">62</div><div class="c" style="left:229px;width:111px;">600</div><div class="c n1" style="left:342px;width:46px;">K20</div><div class="c n1" style="left:390px;width:45px;">300</div><div class="c n2" style="left:437px;width:45px;">0.35</div><div class="c n2" style="left:484px;width:44px;">0.38</div><div class="c n2" style="left:530px;width:45px;">0.40</div><div class="c n2" style="left:577px;width:44px;">0.43</div><div class="c n2" style="left:623px;width:45px;">0.45</div><div class="c n2" style="left:670px;width:45px;">0.48</div></div>
<div class="sep" style="top:1047.8px;"></div>
<div class="lb green k" style="top:1050px;height:33px;"><div class="lt" style="left:13.1px;top:8.8px;">Brąz aluminiowy</div></div>
<div class="r green" style="top:1048.3px;"><div class="bg d"></div><div class="c" style="left:0px;width:112px;">100-200</div><div class="c" style="left:114px;width:113px;">38-68</div><div class="c" style="left:229px;width:111px;">370-670</div><div class="c n1" style="left:342px;width:46px;">K20</div><div class="c n1" style="left:390px;width:45px;">110</div><div class="c n2" style="left:437px;width:45px;">0.28</div><div class="c n2" style="left:484px;width:44px;">0.30</div><div class="c n2" style="left:530px;width:45px;">0.32</div><div class="c n2" style="left:577px;width:44px;">0.34</div><div class="c n2" style="left:623px;width:45px;">0.36</div><div class="c n2" style="left:670px;width:45px;">0.38</div></div>
<div class="hl" style="top:1065.2px;"></div>
<div class="r green" style="top:1065.7px;"><div class="bg l"></div><div class="c" style="left:0px;width:112px;">200-250</div><div class="c" style="left:114px;width:113px;">68-87</div><div class="c" style="left:229px;width:111px;">670-855</div><div class="c n1" style="left:342px;width:46px;">K20</div><div class="c n1" style="left:390px;width:45px;">90</div><div class="c n2" style="left:437px;width:45px;">0.24</div><div class="c n2" style="left:484px;width:44px;">0.26</div><div class="c n2" style="left:530px;width:45px;">0.28</div><div class="c n2" style="left:577px;width:44px;">0.30</div><div class="c n2" style="left:623px;width:45px;">0.32</div><div class="c n2" style="left:670px;width:45px;">0.34</div></div>
<div class="sep" style="top:1082.6px;"></div>
<div class="lb green k" style="top:1085px;height:15px;"><div class="lt" style="left:13.1px;top:1.7px;">Mosiądz</div></div>
<div class="r green" style="top:1083.1px;"><div class="bg d"></div><div class="c" style="left:0px;width:112px;">100</div><div class="c" style="left:114px;width:113px;">38</div><div class="c" style="left:229px;width:111px;">370</div><div class="c n1" style="left:342px;width:46px;">K20</div><div class="c n1" style="left:390px;width:45px;">200</div><div class="c n2" style="left:437px;width:45px;">0.30</div><div class="c n2" style="left:484px;width:44px;">0.33</div><div class="c n2" style="left:530px;width:45px;">0.36</div><div class="c n2" style="left:577px;width:44px;">0.38</div><div class="c n2" style="left:623px;width:45px;">0.41</div><div class="c n2" style="left:670px;width:45px;">0.43</div></div>
<div class="sep" style="top:1100px;"></div>
<div class="lb green k" style="top:1102px;height:16px;"><div class="lt" style="left:13.6px;top:3px;">Miedź</div></div>
<div class="r green" style="top:1100.5px;"><div class="bg l"></div><div class="c" style="left:0px;width:112px;">60</div><div class="c" style="left:114px;width:113px;">21</div><div class="c" style="left:229px;width:111px;">200</div><div class="c n1" style="left:342px;width:46px;">K20</div><div class="c n1" style="left:390px;width:45px;">130</div><div class="c n2" style="left:437px;width:45px;">0.08</div><div class="c n2" style="left:484px;width:44px;">0.09</div><div class="c n2" style="left:530px;width:45px;">0.11</div><div class="c n2" style="left:577px;width:44px;">0.13</div><div class="c n2" style="left:623px;width:45px;">0.15</div><div class="c n2" style="left:670px;width:45px;">0.16</div></div>
<div class="sep" style="top:1117.4px;"></div>
<div class="vl" style="left:258px;"></div>
<div class="vl" style="left:373px;"></div>
<div class="vl" style="left:486px;"></div>
<div class="vl" style="left:534px;"></div>
<div class="vl" style="left:581px;"></div>
<div class="vl" style="left:628px;"></div>
<div class="vl" style="left:674px;"></div>
<div class="vl" style="left:721px;"></div>
<div class="vl" style="left:767px;"></div>
<div class="vl" style="left:814px;"></div>
<div class="a" style="left:0;top:0;width:1px;height:1118px;background:rgba(255,255,255,.3);"></div>
</div>
</body>
</html>
